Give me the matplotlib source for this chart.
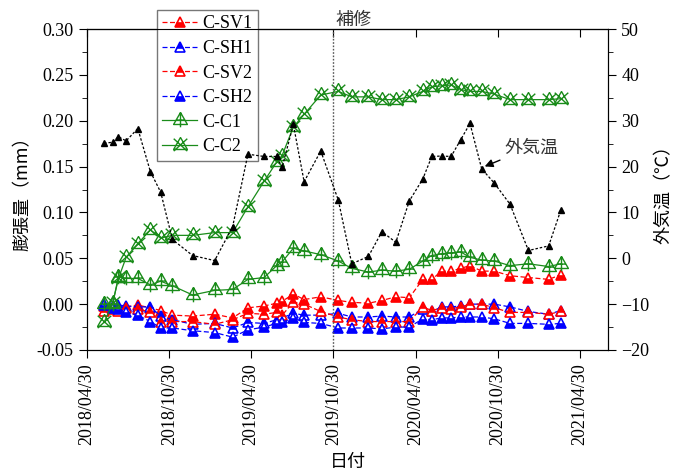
import matplotlib
matplotlib.use("Agg")
import matplotlib.pyplot as plt
import matplotlib.dates as mdates
from matplotlib.path import Path
from matplotlib.ticker import MultipleLocator
import numpy as np
import pandas as pd

plt.rcParams['font.family'] = ['Liberation Serif', 'Noto Sans CJK JP']
plt.rcParams['mathtext.fontset'] = 'stix'

dates = ["2018-06-07", "2018-06-26", "2018-07-09", "2018-07-26", "2018-08-21", "2018-09-18",
         "2018-10-11", "2018-11-06", "2018-12-21", "2019-02-08", "2019-03-20", "2019-04-23",
         "2019-05-29", "2019-06-26", "2019-07-08", "2019-08-02", "2019-08-26", "2019-10-02",
         "2019-11-10", "2019-12-10", "2020-01-16", "2020-02-15", "2020-03-17", "2020-04-16",
         "2020-05-16", "2020-06-05", "2020-06-27", "2020-07-18", "2020-08-08", "2020-08-29",
         "2020-09-24", "2020-10-22", "2020-11-26", "2021-01-06", "2021-02-20", "2021-03-19"]

c_sv1 = [-0.002, -0.003, -0.004, -0.003, -0.001, -0.004, -0.007, -0.012, -0.013, -0.011, -0.015, -0.004,
         -0.002, 0.001, 0.003, 0.011, 0.005, 0.008, 0.004, 0.002, 0.001, 0.004, 0.008, 0.007,
         0.027, 0.027, 0.036, 0.036, 0.039, 0.042, 0.036, 0.036, 0.031, 0.029, 0.027, 0.032]
c_sh1 = [0.000, -0.002, -0.001, -0.002, -0.003, -0.003, -0.013, -0.017, -0.022, -0.021, -0.026, -0.020,
         -0.021, -0.017, -0.015, -0.010, -0.012, -0.012, -0.010, -0.014, -0.014, -0.013, -0.014, -0.014,
         -0.005, -0.008, -0.003, -0.003, -0.002, 0.000, 0.000, 0.000, -0.003, -0.008, -0.011, -0.007]
c_sv2 = [-0.008, -0.005, -0.007, -0.004, -0.005, -0.009, -0.019, -0.019, -0.019, -0.022, -0.017, -0.010,
         -0.011, -0.009, -0.012, 0.002, 0.000, -0.008, -0.014, -0.017, -0.019, -0.019, -0.019, -0.019,
         -0.003, -0.007, -0.004, -0.005, -0.003, 0.000, 0.000, -0.004, -0.009, -0.009, -0.011, -0.008]
c_sh2 = [-0.001, -0.004, -0.005, -0.009, -0.012, -0.019, -0.026, -0.026, -0.029, -0.031, -0.036, -0.028,
         -0.025, -0.021, -0.020, -0.015, -0.020, -0.021, -0.026, -0.026, -0.026, -0.027, -0.025, -0.025,
         -0.016, -0.017, -0.015, -0.015, -0.014, -0.014, -0.014, -0.016, -0.021, -0.021, -0.022, -0.021]
c_c1 = [0.000, 0.000, 0.030, 0.028, 0.028, 0.021, 0.025, 0.020, 0.010, 0.015, 0.016, 0.027,
        0.029, 0.042, 0.046, 0.061, 0.058, 0.054, 0.047, 0.039, 0.035, 0.037, 0.036, 0.038,
        0.047, 0.053, 0.055, 0.056, 0.057, 0.051, 0.048, 0.047, 0.042, 0.044, 0.041, 0.044]
c_c2 = [-0.020, 0.001, 0.028, 0.051, 0.066, 0.081, 0.072, 0.075, 0.075, 0.078, 0.078, 0.106,
        0.134, 0.155, 0.162, 0.193, 0.207, 0.228, 0.232, 0.226, 0.226, 0.223, 0.223, 0.226,
        0.232, 0.237, 0.238, 0.239, 0.234, 0.232, 0.232, 0.229, 0.223, 0.223, 0.223, 0.224]
temp = [25.1, 25.3, 26.5, 25.6, 28.3, 18.9, 14.4, 4.1, 0.6, -0.5, 6.9, 22.7,
        22.2, 22.2, 19.8, 29.2, 16.7, 23.4, 12.7, -1.2, 0.4, 5.8, 3.5, 12.5,
        17.3, 22.2, 22.3, 22.2, 25.8, 29.4, 19.5, 16.4, 11.8, 1.7, 2.7, 10.5]

tick_dates = ["2018-04-30", "2018-10-30", "2019-04-30", "2019-10-30", "2020-04-30", "2020-10-30", "2021-04-30"]
repair_date = "2019-10-30"

x = pd.to_datetime(dates)
ticks = pd.to_datetime(tick_dates)

# custom markers
tri = [(0, 1), (-0.866, -0.5), (0.866, -0.5), (0, 1)]
verts_c1 = tri + [(0, 1.0), (0, -0.85), (-0.55, 0.05), (0.55, 0.05)]
codes_c1 = [Path.MOVETO, Path.LINETO, Path.LINETO, Path.LINETO,
            Path.MOVETO, Path.LINETO, Path.MOVETO, Path.LINETO]
m_c1 = Path(verts_c1, codes_c1)
verts_c2 = tri + [(-0.85, 0.85), (0.85, -0.7), (0.85, 0.85), (-0.85, -0.7)]
m_c2 = Path(verts_c2, codes_c1)

fig = plt.figure(figsize=(6.73, 4.72), dpi=100)
ax = fig.add_axes([87/673, 1-350/472, (608-87)/673, (350-29)/472])
ax2 = ax.twinx()

red = '#FF0000'
blue = '#0000FF'
green = '#1A8C1A'
ms = 7.5
dash = (0, (4, 2))

ax.plot(x, c_sv1, color=red, ls=dash, lw=0.9, marker='^', ms=ms, mec=red, mfc=red,
        fillstyle='bottom', mfcalt='white', mew=1.2, label='C-SV1')
ax.plot(x, c_sh1, color=blue, ls=dash, lw=0.9, marker='^', ms=ms, mec=blue, mfc=blue,
        fillstyle='top', mfcalt='white', mew=1.2, label='C-SH1')
ax.plot(x, c_sv2, color=red, ls=dash, lw=0.9, marker='^', ms=ms, mec=red, mfc=red,
        fillstyle='top', mfcalt='white', mew=1.2, label='C-SV2')
ax.plot(x, c_sh2, color=blue, ls=dash, lw=0.9, marker='^', ms=ms, mec=blue, mfc=blue,
        fillstyle='bottom', mfcalt='white', mew=1.2, label='C-SH2')
ax.plot(x, c_c1, color=green, ls='-', lw=0.9, marker=m_c1, ms=11.5, mec=green, mfc='none',
        mew=1.0, label='C-C1')
ax.plot(x, c_c2, color=green, ls='-', lw=0.9, marker=m_c2, ms=11.5, mec=green, mfc='none',
        mew=1.0, label='C-C2')

ax2.plot(x, temp, color='black', ls=(0, (2, 1.5)), lw=0.9, marker='^', ms=5, mfc='black', mec='black')

ax.set_ylim(-0.05, 0.30)
ax2.set_ylim(-20, 50)
ax.set_xlim(pd.Timestamp("2018-04-30"), pd.Timestamp("2021-07-02"))

ax.yaxis.set_major_locator(MultipleLocator(0.05))
ax.yaxis.set_minor_locator(MultipleLocator(0.025))
ax.yaxis.set_major_formatter(matplotlib.ticker.FormatStrFormatter('%.2f'))
ax2.yaxis.set_major_locator(MultipleLocator(10))
ax2.yaxis.set_minor_locator(MultipleLocator(5))

ax.set_xticks(ticks)
ax.xaxis.set_major_formatter(mdates.DateFormatter('%Y/%m/%d'))
ax.xaxis.set_minor_locator(matplotlib.ticker.NullLocator())
for lab in ax.get_xticklabels():
    lab.set_rotation(90)

ax.tick_params(axis='both', which='both', labelsize=13, direction='out')
ax.tick_params(axis='x', which='major', length=6)
ax.tick_params(axis='y', which='major', length=6)
ax.tick_params(axis='y', which='minor', length=3.5)
ax2.tick_params(axis='y', which='major', length=6, labelsize=13, direction='out')
ax2.tick_params(axis='y', which='minor', length=3.5, direction='out')

# top ticks inward
secx = ax.secondary_xaxis('top')
secx.set_xticks(ticks)
secx.tick_params(direction='in', length=6, labeltop=False)
secx.set_xticklabels([])
ax.tick_params(axis='x', top=False)

cjk = ['Noto Sans CJK JP']
ax.axvline(pd.Timestamp(repair_date), color='#555555', ls=(0, (1.2, 1.2)), lw=1.0)
ax.text(pd.Timestamp(repair_date) + pd.Timedelta(days=5), 0.3005, '補修',
        fontsize=13, family=cjk, ha='left', va='bottom', color='#333333')

ax.set_ylabel('膨張量（mm）', fontsize=13, family=cjk, labelpad=4)
ax2.set_ylabel('外気温（℃）', fontsize=13, family=cjk, labelpad=4)
ax.set_xlabel('日付', fontsize=13, family=cjk, labelpad=6)

ax2.annotate('外気温', xy=(pd.Timestamp("2020-09-25"), 19.8),
             xytext=(pd.Timestamp("2020-11-13"), 24.2), fontsize=13, family=cjk,
             ha='left', va='center', color='#333333',
             arrowprops=dict(arrowstyle='-|>', color='black', lw=1.0, mutation_scale=12,
                             shrinkA=2, shrinkB=2))

leg = ax.legend(loc='upper left', bbox_to_anchor=(157/673, 1-10/472),
                bbox_transform=fig.transFigure, fontsize=13, frameon=True, fancybox=False,
                edgecolor='#777777', framealpha=1, borderaxespad=0, handlelength=1.9,
                handletextpad=0.3, labelspacing=0.42, borderpad=0.3)
leg.get_frame().set_linewidth(1.0)
leg.set_zorder(10)

fig.savefig('out.png', dpi=100)
